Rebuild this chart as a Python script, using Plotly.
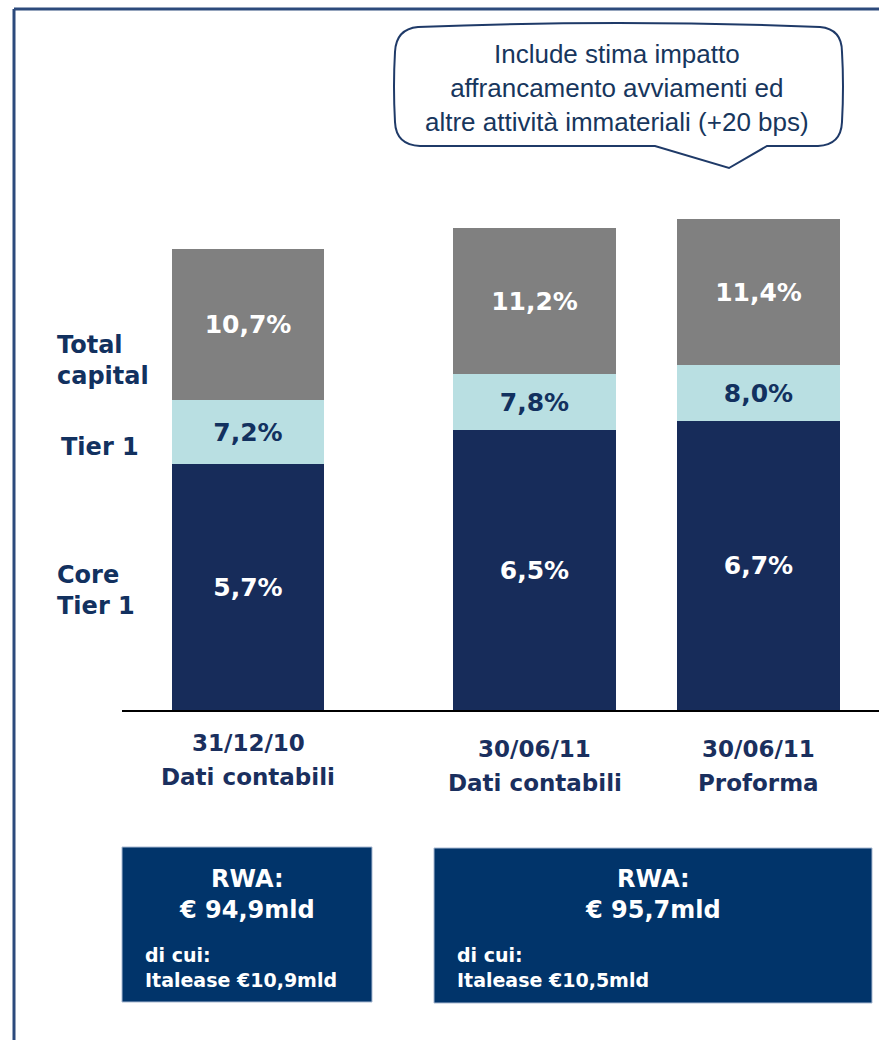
import plotly.graph_objects as go

# Capital ratios (%) per reporting date
period_dates = ["31/12/10", "30/06/11", "30/06/11"]
period_notes = ["Dati contabili", "Dati contabili", "Proforma"]
core_tier1 = [5.7, 6.5, 6.7]
tier1 = [7.2, 7.8, 8.0]
total_capital = [10.7, 11.2, 11.4]

# Risk weighted assets (EUR bn) and Italease share
rwa_bn = [94.9, 95.7]
italease_bn = [10.9, 10.5]

callout_lines = [
    "Include stima impatto",
    "affrancamento avviamenti ed",
    "altre attività immateriali (+20 bps)",
]

# Page geometry
W, H = 879, 1040
ML, MR, MT, MB = 122, 0, 150, 330
x_pos = [0.0, 1.28, 2.28]
bar_w = [0.68, 0.73, 0.73]
label_top = [743, 749, 749]  # pixel row of the first category line
label_step = 34

NAVY = "#172c5a"
LIGHT = "#b9dfe2"
GREY = "#808080"
TEXT = "#12315f"
BOX = "#01346a"
FRAME = "#2c4a7c"
BOLD_FONT = "DejaVu Sans"


def pct(v):
    return f"{v:.1f}".replace(".", ",") + "%"


def eur(v):
    return f"{v:.1f}".replace(".", ",")


def px(x):
    return (x - ML) / (W - ML - MR)


def py(y):
    return (H - MB - y) / (H - MT - MB)


fig = go.Figure()

segments = [
    ("Core Tier 1", [0, 0, 0], core_tier1, NAVY, "white"),
    ("Tier 1", core_tier1, tier1, LIGHT, TEXT),
    ("Total capital", tier1, total_capital, GREY, "white"),
]
for name, lo, hi, color, tcolor in segments:
    fig.add_trace(go.Bar(
        x=x_pos,
        y=[h - l for h, l in zip(hi, lo)],
        base=lo,
        width=bar_w,
        name=name,
        marker=dict(color=color, line_width=0),
        text=[pct(v) for v in hi],
        textposition="inside",
        insidetextanchor="middle",
        constraintext="none",
        textfont=dict(family=BOLD_FONT, size=25, color=tcolor, weight="bold"),
        hoverinfo="skip",
    ))

shapes = []
# Page frame (top and left edges)
shapes.append(dict(type="line", xref="paper", yref="paper",
                   x0=px(14), y0=py(9), x1=px(880), y1=py(9),
                   line=dict(color=FRAME, width=3)))
shapes.append(dict(type="line", xref="paper", yref="paper",
                   x0=px(14), y0=py(9), x1=px(14), y1=py(1041),
                   line=dict(color=FRAME, width=3)))

# Speech bubble pointing at the pro-forma bar
bubble = [
    ("M", (418, 27)),
    ("Q", (618, 19), (820, 27)),
    ("Q", (842, 29), (842, 52)),
    ("Q", (844, 86), (842, 122)),
    ("Q", (841, 145), (818, 146)),
    ("L", (767, 146)),
    ("L", (729, 168)),
    ("L", (655, 146)),
    ("L", (420, 146)),
    ("Q", (396, 145), (395, 122)),
    ("Q", (393, 86), (395, 52)),
    ("Q", (396, 29), (418, 27)),
]
path = ""
for cmd, *pts in bubble:
    path += cmd + " " + " ".join(f"{px(a):.5f},{py(b):.5f}" for a, b in pts) + " "
path += "Z"
shapes.append(dict(type="path", xref="paper", yref="paper", path=path,
                   fillcolor="white", line=dict(color="#1f3a68", width=2)))

# RWA boxes
boxes = [(122, 847, 372, 1002), (434, 848, 872, 1003)]
for x0, y0, x1, y1 in boxes:
    shapes.append(dict(type="rect", xref="paper", yref="paper",
                       x0=px(x0), y0=py(y1), x1=px(x1), y1=py(y0),
                       fillcolor=BOX, line=dict(color="#a9b9d2", width=1)))

annotations = []
annotations.append(dict(
    text="<br>".join(callout_lines), xref="paper", yref="paper",
    x=px(617), y=py(88), xanchor="center", yanchor="middle", showarrow=False,
    font=dict(family="Liberation Sans", size=26, color="#17365d"),
))

# Category labels under the bars
cat_font = dict(family=BOLD_FONT, size=23, color="#1a2f5e", weight="bold")
for xv, date, note, top in zip(x_pos, period_dates, period_notes, label_top):
    for i, line in enumerate((date, note)):
        annotations.append(dict(
            text=line, xref="x", yref="paper", x=xv, y=py(top + i * label_step),
            xanchor="center", yanchor="middle", showarrow=False, font=cat_font,
        ))

# Series labels beside the first bar
side_labels = [("Total<br>capital", 55, 360), ("Tier 1", 59, 447), ("Core<br>Tier 1", 55, 590)]
for txt, x, y in side_labels:
    annotations.append(dict(
        text=txt, xref="paper", yref="paper", x=px(x), y=py(y),
        xanchor="left", yanchor="middle", align="left", showarrow=False,
        font=dict(family=BOLD_FONT, size=24, color=TEXT, weight="bold"),
    ))

# RWA texts
for (x0, y0, x1, y1), rwa, ita in zip(boxes, rwa_bn, italease_bn):
    annotations.append(dict(
        text=f"RWA:<br>€ {eur(rwa)}mld", xref="paper", yref="paper",
        x=px((x0 + x1) / 2), y=py(894), xanchor="center", yanchor="middle",
        showarrow=False,
        font=dict(family=BOLD_FONT, size=24, color="white", weight="bold"),
    ))
    annotations.append(dict(
        text=f"di cui:<br>Italease €{eur(ita)}mld", xref="paper", yref="paper",
        x=px(x0 + 21), y=py(967), xanchor="left", yanchor="middle", align="left",
        showarrow=False,
        font=dict(family=BOLD_FONT, size=19, color="white", weight="bold"),
    ))

fig.update_layout(
    width=W, height=H,
    margin=dict(l=ML, r=MR, t=MT, b=MB, pad=0),
    paper_bgcolor="white", plot_bgcolor="white",
    barmode="overlay", bargap=0,
    showlegend=False,
    shapes=shapes,
    annotations=annotations,
    xaxis=dict(
        range=[-0.5625, 2.817], tickvals=x_pos, showticklabels=False,
        showline=True, linecolor="black", linewidth=2,
        showgrid=False, zeroline=False, ticks="",
    ),
    yaxis=dict(range=[0, 13], visible=False, fixedrange=True),
)

fig.write_html("out.html")
